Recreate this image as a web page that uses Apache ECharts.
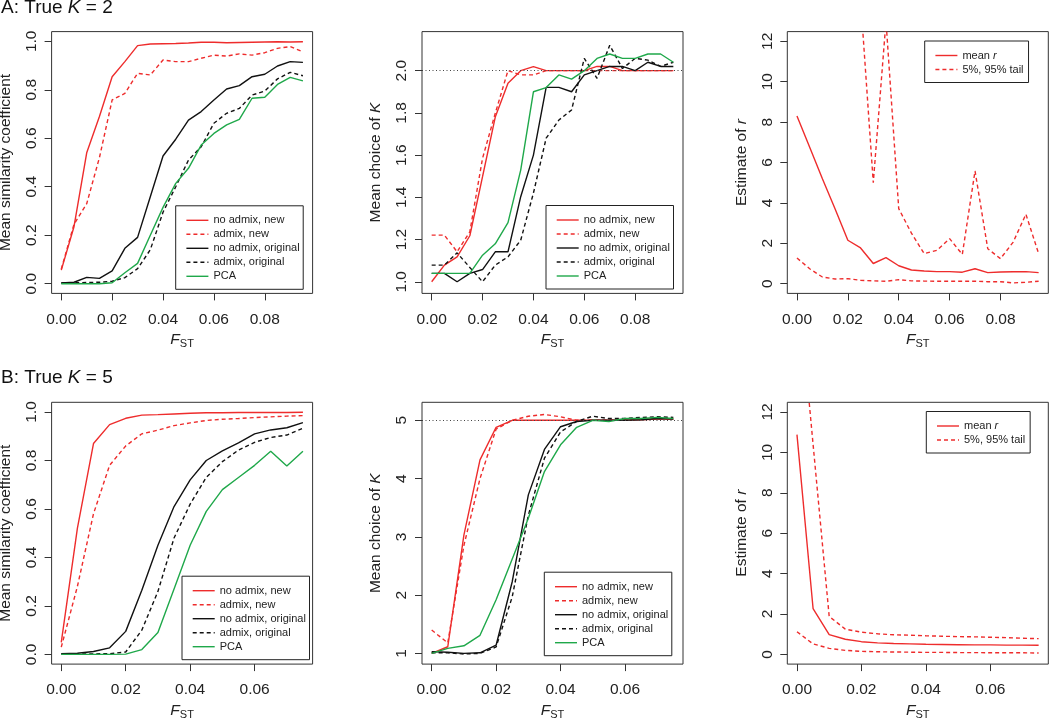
<!DOCTYPE html>
<html><head><meta charset="utf-8">
<script src="https://cdn.jsdelivr.net/npm/echarts@6/dist/echarts.min.js"></script>
<style>html,body{margin:0;padding:0;background:#fff}#c{width:1050px;height:721px}</style>
</head><body><div id="c"></div>
<script>
// ---------- data ----------
const xA = [0,0.005,0.01,0.015,0.02,0.025,0.03,0.035,0.04,0.045,0.05,0.055,0.06,0.065,0.07,0.075,0.08,0.085,0.09,0.095];
const xB = [0,0.005,0.01,0.015,0.02,0.025,0.03,0.035,0.04,0.045,0.05,0.055,0.06,0.065,0.07,0.075];

// Panel A1: mean similarity coefficient, true K = 2
const simA_noAdmixNew  = [0.056,0.235,0.54,0.69,0.854,0.916,0.982,0.989,0.99,0.991,0.993,0.996,0.996,0.994,0.995,0.996,0.997,0.998,0.997,0.998];
const simA_admixNew    = [0.06,0.245,0.33,0.52,0.758,0.785,0.868,0.861,0.923,0.916,0.916,0.93,0.943,0.939,0.948,0.943,0.953,0.971,0.978,0.957];
const simA_noAdmixOrig = [0.003,0.006,0.026,0.022,0.053,0.146,0.191,0.359,0.527,0.596,0.675,0.71,0.758,0.803,0.817,0.854,0.864,0.898,0.916,0.913];
const simA_admixOrig   = [0.003,0.004,0.005,0.006,0.01,0.025,0.062,0.14,0.295,0.4,0.51,0.565,0.662,0.703,0.723,0.778,0.795,0.845,0.872,0.858];
const simA_pca         = [0,0,0,0,0.004,0.045,0.084,0.2,0.315,0.414,0.476,0.572,0.62,0.655,0.678,0.765,0.769,0.822,0.851,0.837];

// Panel A2: mean choice of K, true K = 2
const kA_noAdmixNew  = [1.0,1.079,1.118,1.218,1.498,1.78,1.94,2.0,2.019,2.0,2.0,2.0,2.0,2.02,2.02,2.0,2.0,2.0,2.0,2.0];
const kA_admixNew    = [1.221,1.221,1.142,1.237,1.585,1.798,2.0,1.98,1.98,2.0,2.0,2.0,2.0,2.0,2.0,2.0,2.0,2.0,2.0,2.0];
const kA_noAdmixOrig = [1.04,1.04,1.0,1.04,1.058,1.142,1.142,1.403,1.6,1.921,1.921,1.9,1.98,2.0,2.02,2.02,2.0,2.04,2.02,2.02];
const kA_admixOrig   = [1.079,1.079,1.137,1.068,1.0,1.079,1.118,1.197,1.42,1.68,1.766,1.814,2.058,1.964,2.12,2.01,2.058,2.05,2.02,2.04];
const kA_pca         = [1.04,1.04,1.04,1.04,1.126,1.18,1.28,1.529,1.9,1.92,1.98,1.96,2.0,2.058,2.079,2.058,2.058,2.079,2.079,2.04];
const trueK_A = 2;

// Panel A3: estimate of r, true K = 2 (upper tail off-scale where null)
const rA_mean = [8.3,6.75,5.2,3.7,2.15,1.77,1.0,1.29,0.89,0.68,0.63,0.6,0.6,0.57,0.74,0.55,0.58,0.59,0.6,0.55];
const rA_lo   = [1.27,0.74,0.33,0.23,0.25,0.17,0.14,0.12,0.2,0.14,0.13,0.12,0.12,0.12,0.12,0.1,0.1,0.04,0.07,0.12];
const rA_hi   = [null,null,null,null,null,14.1,5.0,13.0,3.72,2.5,1.49,1.65,2.23,1.45,5.58,1.73,1.24,2.06,3.44,1.49];

// Panel B1: mean similarity coefficient, true K = 5
const simB_noAdmixNew  = [0.05,0.52,0.87,0.948,0.974,0.987,0.989,0.992,0.995,0.997,0.997,0.998,0.998,0.998,0.998,0.999];
const simB_admixNew    = [0.03,0.28,0.58,0.78,0.86,0.91,0.925,0.944,0.955,0.965,0.97,0.973,0.977,0.98,0.983,0.985];
const simB_noAdmixOrig = [0.003,0.005,0.012,0.027,0.095,0.265,0.45,0.61,0.72,0.8,0.84,0.873,0.91,0.926,0.935,0.956];
const simB_admixOrig   = [0.002,0.002,0.002,0.003,0.01,0.1,0.26,0.48,0.62,0.73,0.795,0.843,0.875,0.895,0.905,0.933];
const simB_pca         = [0,0,0,0,0.001,0.02,0.09,0.27,0.45,0.59,0.68,0.73,0.78,0.838,0.777,0.838];

// Panel B2: mean choice of K, true K = 5
const kB_noAdmixNew  = [1.0,1.114,3.03,4.32,4.88,5.0,5.0,5.0,5.0,5.0,5.0,5.0,5.0,5.01,5.02,5.02];
const kB_admixNew    = [1.4,1.18,2.85,4.0,4.85,5.0,5.07,5.1,5.06,5.0,5.0,5.0,5.02,5.02,5.03,5.02];
const kB_noAdmixOrig = [1.03,1.02,1.0,1.01,1.14,2.23,3.72,4.5,4.89,4.98,5.0,5.0,5.0,5.01,5.03,5.02];
const kB_admixOrig   = [1.01,1.01,0.99,1.0,1.11,1.97,3.37,4.35,4.8,4.98,5.07,5.03,5.03,5.05,5.06,5.05];
const kB_pca         = [1.0,1.086,1.13,1.31,1.92,2.62,3.32,4.12,4.58,4.88,5.0,4.98,5.03,5.03,5.05,5.03];
const trueK_B = 5;

// Panel B3: estimate of r, true K = 5
const rB_mean = [10.88,2.27,0.98,0.75,0.63,0.57,0.54,0.52,0.5,0.49,0.48,0.47,0.47,0.46,0.46,0.45];
const rB_lo   = [1.12,0.52,0.3,0.2,0.15,0.13,0.12,0.11,0.1,0.1,0.09,0.09,0.08,0.08,0.08,0.07];
const rB_hi   = [19.0,10.4,1.88,1.25,1.1,1.02,0.97,0.95,0.92,0.9,0.88,0.87,0.85,0.83,0.8,0.78];

// tick values
const xTicksA = [0,0.02,0.04,0.06,0.08];
const xTicksB = [0,0.02,0.04,0.06];
const yTicksSim = [0,0.2,0.4,0.6,0.8,1.0];
const yTicksKA = [1.0,1.2,1.4,1.6,1.8,2.0];
const yTicksKB = [1,2,3,4,5];
const yTicksR = [0,2,4,6,8,10,12];

const seriesNames = ['no admix, new','admix, new','no admix, original','admix, original','PCA'];
const rNames = ['mean r','5%, 95% tail'];

// ---------- styling ----------
const FONT = "'Liberation Sans', Arial, Helvetica, sans-serif";
const RED = '#EE2C2C', BLACK = '#111', GREEN = '#1FA84A';
const DASH = [4,3];
const LW = 1.4;
const colL = [51.6, 422, 787.3];
const rowT = [31.6, 402.3];
const GW = 261, GH = 261.8;

const grids = [], xAxes = [], yAxes = [], series = [], legends = [];

function addGrid(col,row){
  grids.push({left:colL[col], top:rowT[row], width:GW, height:GH, show:true,
    borderColor:'#333', borderWidth:1, backgroundColor:'transparent',
    containLabel:false, outerBoundsMode:'none'});
  return grids.length-1;
}
const axisText = {fontSize:15.5, color:'#222', fontFamily:FONT};
function addX(gi, min, max, ticks){
  xAxes.push({type:'value', gridIndex:gi, min, max,
    axisLine:{show:false,onZero:false}, splitLine:{show:false},
    axisTick:{show:true, length:7, customValues:ticks, lineStyle:{color:'#333',width:1}},
    axisLabel:Object.assign({customValues:ticks, margin:18, formatter:v=>v.toFixed(2)}, axisText),
    name:'{f|F}{s|ST}', nameLocation:'middle', nameGap:36.5,
    nameTextStyle:{rich:{
      f:{fontSize:15.5, fontStyle:'italic', fontFamily:FONT, color:'#222', lineHeight:20},
      s:{fontSize:11, fontFamily:FONT, color:'#222', verticalAlign:'bottom', lineHeight:9}}}
  });
}
function addY(gi, min, max, ticks, fmt, name){
  yAxes.push({type:'value', gridIndex:gi, min, max,
    axisLine:{show:false,onZero:false}, splitLine:{show:false},
    axisTick:{show:true, length:7, customValues:ticks, lineStyle:{color:'#333',width:1}},
    axisLabel:Object.assign({customValues:ticks, margin:12, rotate:90, formatter:fmt}, axisText),
    name, nameLocation:'middle', nameGap:38, nameRotate:90,
    nameTextStyle:{fontSize:15.5, color:'#222', fontFamily:FONT, rich:{
      t:{fontSize:15.5, fontFamily:FONT, color:'#222'},
      i:{fontSize:15.5, fontFamily:FONT, color:'#222', fontStyle:'italic'}}}
  });
}
function addLine(gi, name, xs, ys, color, dashed, extra){
  series.push(Object.assign({type:'line', name, xAxisIndex:gi, yAxisIndex:gi,
    data: xs.map((x,i)=>[x, ys[i]]), symbol:'none', showSymbol:false, clip:true,
    silent:true, animation:false, z:3,
    lineStyle:{color, width:LW, type: dashed?DASH:'solid'}, itemStyle:{color}}, extra||{}));
}
function addLegend(left, top, names, padRight){
  legends.push({orient:'vertical', left, top, data:names, itemWidth:22, itemHeight:14, itemGap:0,
    padding:[7.5,padRight,6,10], borderColor:'#222', borderWidth:1, backgroundColor:'#fff',
    selectedMode:false, itemStyle:{opacity:0}, lineStyle:{width:LW}, z:5,
    formatter: n => n==='mean r' ? '{t|mean }{i|r}' : '{t|'+n+'}',
    textStyle:{fontSize:11, color:'#222', fontFamily:FONT, lineHeight:14, rich:{
      t:{fontSize:11, color:'#222', fontFamily:FONT, lineHeight:14},
      i:{fontSize:11, color:'#222', fontFamily:FONT, fontStyle:'italic', lineHeight:14}}}
  });
}
const f1 = v=>v.toFixed(1), f0 = v=>String(v);
const nameSim = 'Mean similarity coefficient';
const nameK = '{t|Mean choice of }{i|K}';
const nameR = '{t|Estimate of }{i|r}';
function dotted(v){ return {markLine:{silent:true, symbol:['none','none'], label:{show:false},
  lineStyle:{type:[1,2.5], color:'#444', width:1}, data:[{yAxis:v}], animation:false}}; }

function simPanel(gi, xs, d){
  addLine(gi, seriesNames[0], xs, d[0], RED, false);
  addLine(gi, seriesNames[1], xs, d[1], RED, true);
  addLine(gi, seriesNames[2], xs, d[2], BLACK, false);
  addLine(gi, seriesNames[3], xs, d[3], BLACK, true);
  addLine(gi, seriesNames[4], xs, d[4], GREEN, false);
}

// ---- Row A ----
let g;
g = addGrid(0,0); addX(g,-0.0038,0.0988,xTicksA); addY(g,-0.04,1.04,yTicksSim,f1,nameSim);
simPanel(g, xA, [simA_noAdmixNew, simA_admixNew, simA_noAdmixOrig, simA_admixOrig, simA_pca]);
g = addGrid(1,0); addX(g,-0.0038,0.0988,xTicksA); addY(g,0.945,2.185,yTicksKA,f1,nameK);
addLine(g, seriesNames[0], xA, kA_noAdmixNew, RED, false, dotted(trueK_A));
addLine(g, seriesNames[1], xA, kA_admixNew, RED, true);
addLine(g, seriesNames[2], xA, kA_noAdmixOrig, BLACK, false);
addLine(g, seriesNames[3], xA, kA_admixOrig, BLACK, true);
addLine(g, seriesNames[4], xA, kA_pca, GREEN, false);
g = addGrid(2,0); addX(g,-0.0038,0.0988,xTicksA); addY(g,-0.48,12.48,yTicksR,f0,nameR);
addLine(g, rNames[0], xA, rA_mean, RED, false);
addLine(g, rNames[1], xA, rA_lo, RED, true);
addLine(g, rNames[1], xA, rA_hi, RED, true);

// ---- Row B ----
g = addGrid(0,1); addX(g,-0.003,0.078,xTicksB); addY(g,-0.04,1.04,yTicksSim,f1,nameSim);
simPanel(g, xB, [simB_noAdmixNew, simB_admixNew, simB_noAdmixOrig, simB_admixOrig, simB_pca]);
g = addGrid(1,1); addX(g,-0.003,0.078,xTicksB); addY(g,0.816,5.309,yTicksKB,f0,nameK);
addLine(g, seriesNames[0], xB, kB_noAdmixNew, RED, false, dotted(trueK_B));
addLine(g, seriesNames[1], xB, kB_admixNew, RED, true);
addLine(g, seriesNames[2], xB, kB_noAdmixOrig, BLACK, false);
addLine(g, seriesNames[3], xB, kB_admixOrig, BLACK, true);
addLine(g, seriesNames[4], xB, kB_pca, GREEN, false);
g = addGrid(2,1); addX(g,-0.003,0.078,xTicksB); addY(g,-0.48,12.48,yTicksR,f0,nameR);
addLine(g, rNames[0], xB, rB_mean, RED, false);
addLine(g, rNames[1], xB, rB_lo, RED, true);
addLine(g, rNames[1], xB, rB_hi, RED, true);

addLegend(175.7, 205.8, seriesNames, 3.6);
addLegend(546, 205.5, seriesNames, 3.6);
addLegend(924.7, 41, rNames, 5);
addLegend(182, 576.2, seriesNames, 3.6);
addLegend(544.3, 572.2, seriesNames, 3.6);
addLegend(926.3, 411.5, rNames, 5);

const titleRich = {a:{fontSize:19, fontFamily:FONT, color:'#111', fontWeight:'normal'},
                   k:{fontSize:19, fontFamily:FONT, color:'#111', fontStyle:'italic', fontWeight:'normal'}};
const titles = [
  {text:'{a|A: True }{k|K}{a| = 2}', left:1, top:-1.5, padding:0, textStyle:{fontWeight:'normal', rich:titleRich}},
  {text:'{a|B: True }{k|K}{a| = 5}', left:1, top:368, padding:0, textStyle:{fontWeight:'normal', rich:titleRich}}
];

const chart = echarts.init(document.getElementById('c'), null, {renderer:'canvas'});
chart.setOption({animation:false, backgroundColor:'#fff', title:titles, grid:grids,
  xAxis:xAxes, yAxis:yAxes, legend:legends, series});
</script></body></html>
